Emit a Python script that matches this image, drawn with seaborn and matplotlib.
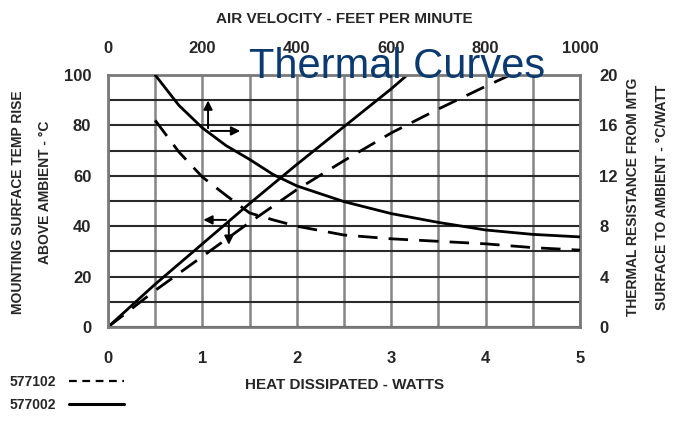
import numpy as np
import pandas as pd
import seaborn as sns
import matplotlib.pyplot as plt
from matplotlib.lines import Line2D

# heat dissipated (W) -> mounting surface temp rise (C), left/bottom axes
watts_577002 = [0, 0.5, 1, 1.5, 2, 2.5, 3, 3.17]
temp_577002 = [0, 17, 33, 49, 64.5, 79.5, 94.5, 100]
watts_577102 = [0, 0.5, 1, 1.5, 2, 2.5, 3, 3.5, 4, 4.26]
temp_577102 = [0, 14.5, 28, 41.5, 54.5, 66, 77, 86.5, 95.5, 100]

# air velocity (ft/min) -> thermal resistance (C/W), top/right axes
fpm = [100, 150, 200, 250, 300, 350, 400, 500, 600, 700, 800, 900, 1000]
res_577002 = [20, 17.6, 15.8, 14.4, 13.3, 12.1, 11.2, 9.95, 9.0, 8.3, 7.7, 7.35, 7.15]
res_577102 = [16.4, 13.9, 11.9, 10.45, 9.05, 8.5, 8.0, 7.3, 7.0, 6.8, 6.6, 6.3, 6.1]

watt_ticks = [0, 1, 2, 3, 4, 5]
temp_ticks = [0, 20, 40, 60, 80, 100]
fpm_ticks = [0, 200, 400, 600, 800, 1000]
res_ticks = [0, 4, 8, 12, 16, 20]

sns.set_style("white")
plt.rcParams['font.family'] = ['Liberation Sans', 'DejaVu Sans']
plt.rcParams['font.weight'] = 'bold'

fig = plt.figure(figsize=(6.78, 4.22), dpi=100)
pos = [108 / 678, 1 - 327 / 422, 472 / 678, 252 / 422]
ax = fig.add_axes(pos)
ax2 = fig.add_axes(pos, frameon=False)

LW = 2.0
DASH = (7, 4)

# rising curves (temp rise vs watts)
sns.lineplot(x=watts_577002, y=temp_577002, ax=ax, color='black', lw=LW)
sns.lineplot(x=watts_577102, y=temp_577102, ax=ax, color='black', lw=LW)
ax.lines[-1].set_dashes(DASH)

# falling curves (resistance vs air velocity)
sns.lineplot(x=fpm, y=res_577002, ax=ax2, color='black', lw=LW)
sns.lineplot(x=fpm, y=res_577102, ax=ax2, color='black', lw=LW)
ax2.lines[-1].set_dashes(DASH)

ax.set_xlim(0, 5)
ax.set_ylim(0, 100)
ax.set_xticks(watt_ticks)
ax.set_xticks(np.arange(0.5, 5, 1), minor=True)
ax.set_yticks(temp_ticks)
ax.set_yticks(np.arange(10, 100, 20), minor=True)
ax.set_xticklabels([str(t) for t in watt_ticks], fontsize=12)
ax.set_yticklabels([str(t) for t in temp_ticks], fontsize=12)
ax.tick_params(axis='x', which='both', length=0, pad=17)
ax.tick_params(axis='y', which='both', length=0, pad=12)
ax.xaxis.grid(True, which='both', color='#858585', lw=1.8)
ax.yaxis.grid(True, which='both', color='#2a2a2a', lw=1.5)
ax.set_axisbelow(True)
for s in ax.spines.values():
    s.set_color('#7a7a7a')
    s.set_linewidth(2)
ax.set_xlabel('')
ax.set_ylabel('')

ax2.set_xlim(0, 1000)
ax2.set_ylim(0, 20)
ax2.xaxis.tick_top()
ax2.yaxis.tick_right()
ax2.set_xticks(fpm_ticks)
ax2.set_yticks(res_ticks)
ax2.set_xticklabels([str(t) for t in fpm_ticks], fontsize=12)
ax2.set_yticklabels([str(t) for t in res_ticks], fontsize=12)
ax2.tick_params(axis='x', length=0, pad=14)
ax2.tick_params(axis='y', length=0, pad=14)
ax2.grid(False)
ax2.set_xlabel('')
ax2.set_ylabel('')

# axis-pointing arrows
arr = dict(arrowstyle='-|>', color='black', lw=1.4, mutation_scale=13)
ax.annotate('', xy=(1.06, 91), xytext=(1.06, 77.8), arrowprops=arr)
ax.annotate('', xy=(1.43, 77.8), xytext=(1.06, 77.8), arrowprops=arr)
ax.annotate('', xy=(0.98, 42.5), xytext=(1.28, 42.5), arrowprops=arr)
ax.annotate('', xy=(1.28, 31.5), xytext=(1.28, 42.5), arrowprops=arr)

# labels
fig.text(344 / 678, 1 - 19 / 422, 'AIR VELOCITY - FEET PER MINUTE', ha='center', va='center', fontsize=11)
fig.text(345 / 678, 1 - 385 / 422, 'HEAT DISSIPATED - WATTS', ha='center', va='center', fontsize=11)
fig.text(18 / 678, 1 - 202 / 422, 'MOUNTING SURFACE TEMP RISE', rotation=90, ha='center', va='center', fontsize=10)
fig.text(45 / 678, 1 - 192 / 422, 'ABOVE AMBIENT - °C', rotation=90, ha='center', va='center', fontsize=10)
fig.text(633 / 678, 1 - 197 / 422, 'THERMAL RESISTANCE FROM MTG', rotation=90, ha='center', va='center', fontsize=10)
fig.text(662 / 678, 1 - 197 / 422, 'SURFACE TO AMBIENT - °C/WATT', rotation=90, ha='center', va='center', fontsize=10)

fig.text(397 / 678, 1 - 67 / 422, 'Thermal Curves', ha='center', va='center', fontsize=30,
         color='#0b3a70', fontweight='normal', family=['Liberation Sans', 'DejaVu Sans'])

# legend
handles = [Line2D([], [], color='black', lw=1.6, dashes=(3.5, 2.5)),
           Line2D([], [], color='black', lw=2.2)]
fig.legend(handles, ['577102', '577002'], loc='lower left', bbox_to_anchor=(0.0, 0.0),
           frameon=False, markerfirst=False, fontsize=10, handlelength=4.0,
           handletextpad=0.9, labelspacing=0.7, borderaxespad=0.3)

fig.savefig('out.png', dpi=100)
